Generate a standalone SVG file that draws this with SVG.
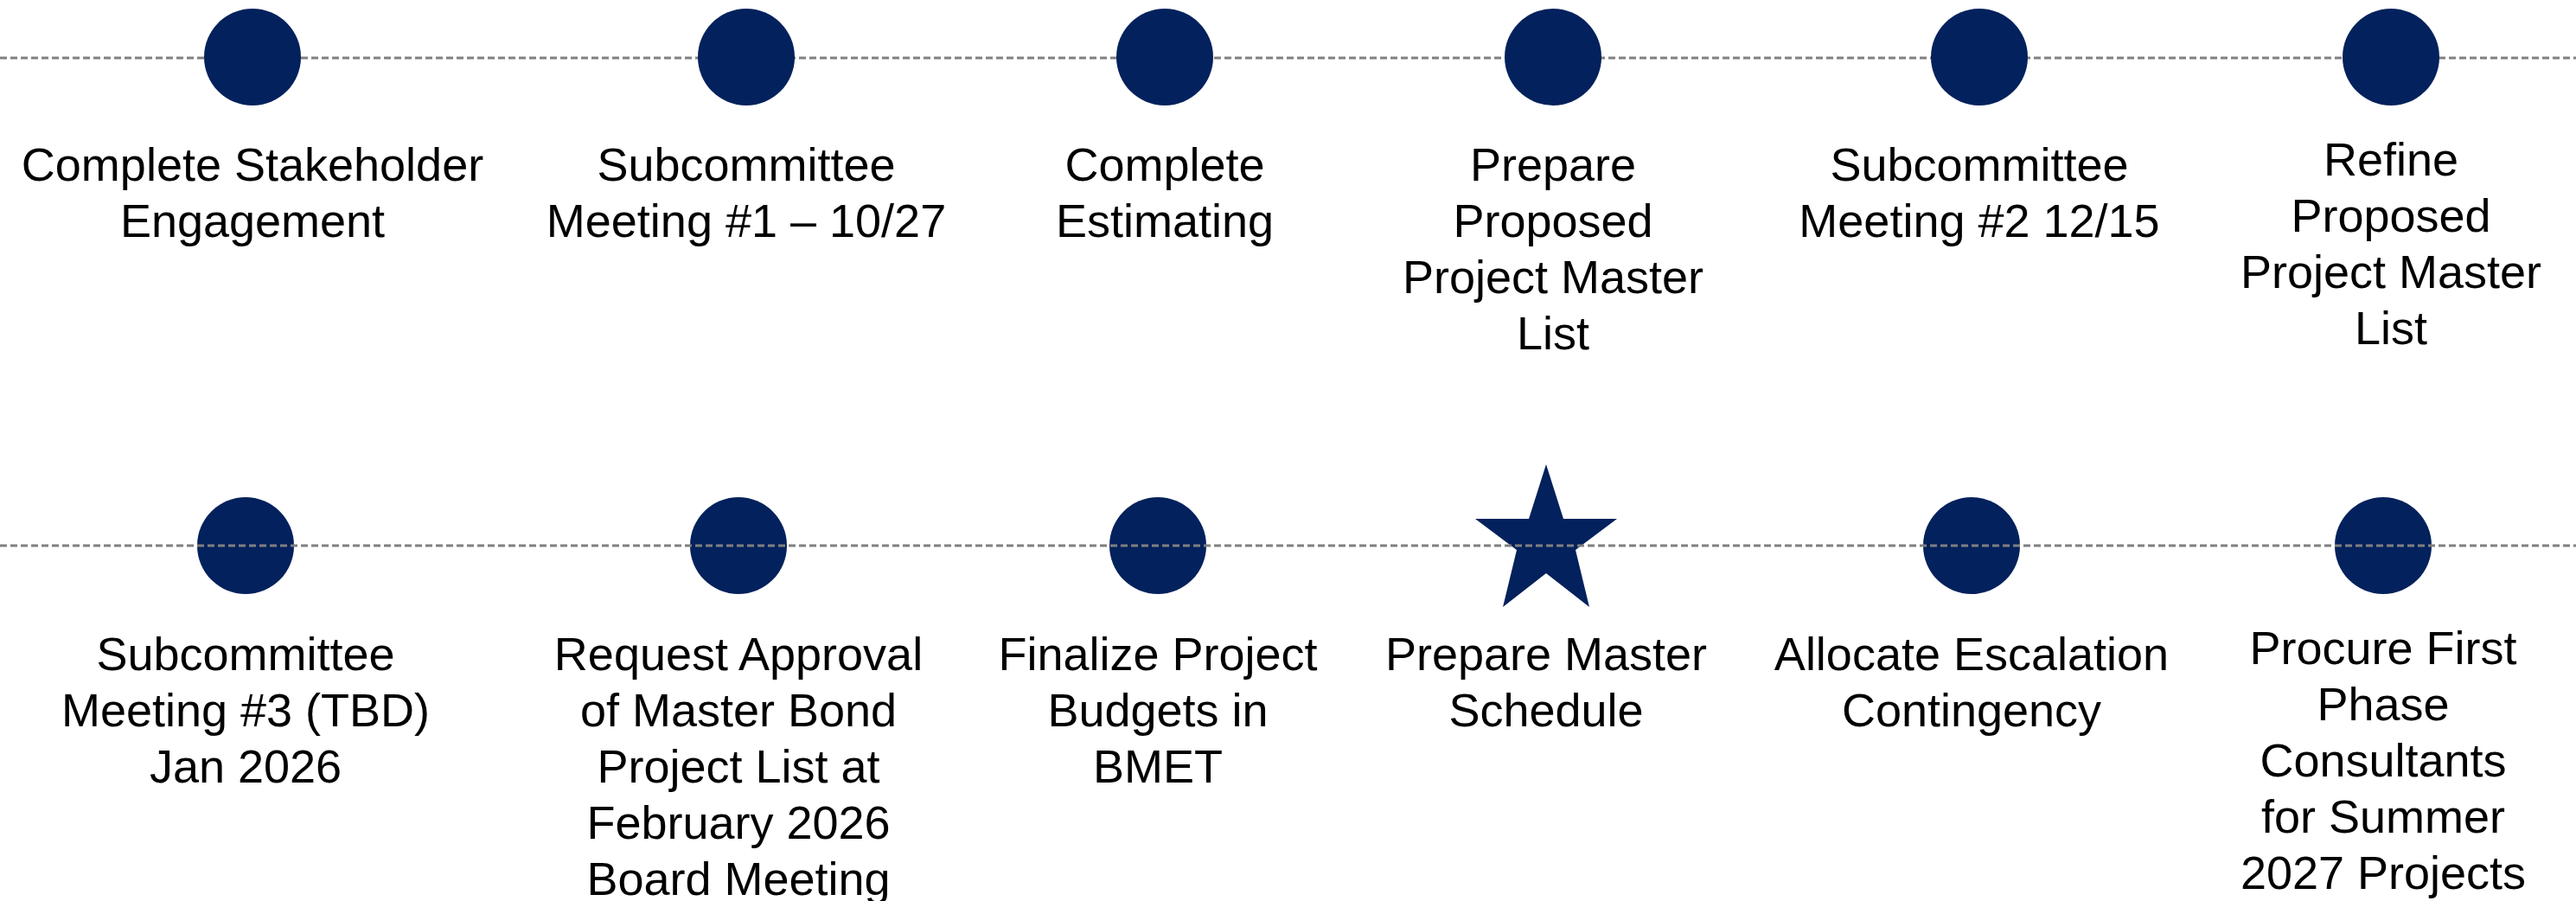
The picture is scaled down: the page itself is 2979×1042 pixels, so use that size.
<svg xmlns="http://www.w3.org/2000/svg" width="2979" height="1042" viewBox="0 0 2979 1042">
<style>
.dash{stroke:#808080;stroke-width:3;stroke-dasharray:8 4;fill:none}
.dot{fill:#03215C}
.lbl{font-family:"Liberation Sans",Arial,sans-serif;font-size:54px;fill:#000;text-anchor:middle}
</style>
<rect width="2979" height="1042" fill="#fff"/>
<g id="connectors-row1">
<line class="dash" x1="0" y1="67" x2="2979" y2="67"/>
</g>
<g id="n1"><circle class="dot" cx="292" cy="66" r="56"/>
<text class="lbl" x="292" y="209">Complete Stakeholder<tspan x="292" dy="65">Engagement</tspan></text></g>
<g id="n2"><circle class="dot" cx="863" cy="66" r="56"/>
<text class="lbl" x="863" y="209">Subcommittee<tspan x="863" dy="65">Meeting #1 – 10/27</tspan></text></g>
<g id="n3"><circle class="dot" cx="1347" cy="66" r="56"/>
<text class="lbl" x="1347" y="209">Complete<tspan x="1347" dy="65">Estimating</tspan></text></g>
<g id="n4"><circle class="dot" cx="1796" cy="66" r="56"/>
<text class="lbl" x="1796" y="209">Prepare<tspan x="1796" dy="65">Proposed</tspan><tspan x="1796" dy="65">Project Master</tspan><tspan x="1796" dy="65">List</tspan></text></g>
<g id="n5"><circle class="dot" cx="2289" cy="66" r="56"/>
<text class="lbl" x="2289" y="209">Subcommittee<tspan x="2289" dy="65">Meeting #2 12/15</tspan></text></g>
<g id="n6"><circle class="dot" cx="2765" cy="66" r="56"/>
<text class="lbl" x="2765" y="203">Refine<tspan x="2765" dy="65">Proposed</tspan><tspan x="2765" dy="65">Project Master</tspan><tspan x="2765" dy="65">List</tspan></text></g>
<g id="n7"><circle class="dot" cx="284" cy="631" r="56"/>
<text class="lbl" x="284" y="775">Subcommittee<tspan x="284" dy="65">Meeting #3 (TBD)</tspan><tspan x="284" dy="65">Jan 2026</tspan></text></g>
<g id="n8"><circle class="dot" cx="854" cy="631" r="56"/>
<text class="lbl" x="854" y="775">Request Approval<tspan x="854" dy="65">of Master Bond</tspan><tspan x="854" dy="65">Project List at</tspan><tspan x="854" dy="65">February 2026</tspan><tspan x="854" dy="65">Board Meeting</tspan></text></g>
<g id="n9"><circle class="dot" cx="1339" cy="631" r="56"/>
<text class="lbl" x="1339" y="775">Finalize Project<tspan x="1339" dy="65">Budgets in</tspan><tspan x="1339" dy="65">BMET</tspan></text></g>
<g id="n10"><polygon class="dot" points="1788,537 1808,600 1870,600 1822,636 1838,702 1788,663 1738,702 1754,636 1706,600 1768,600"/>
<text class="lbl" x="1788" y="775">Prepare Master<tspan x="1788" dy="65">Schedule</tspan></text></g>
<g id="n11"><circle class="dot" cx="2280" cy="631" r="56"/>
<text class="lbl" x="2280" y="775">Allocate Escalation<tspan x="2280" dy="65">Contingency</tspan></text></g>
<g id="n12"><circle class="dot" cx="2756" cy="631" r="56"/>
<text class="lbl" x="2756" y="768">Procure First<tspan x="2756" dy="65">Phase</tspan><tspan x="2756" dy="65">Consultants</tspan><tspan x="2756" dy="65">for Summer</tspan><tspan x="2756" dy="65">2027 Projects</tspan></text></g>
<g id="connectors-row2">
<line class="dash" x1="0" y1="631" x2="2979" y2="631"/>
</g>
</svg>
